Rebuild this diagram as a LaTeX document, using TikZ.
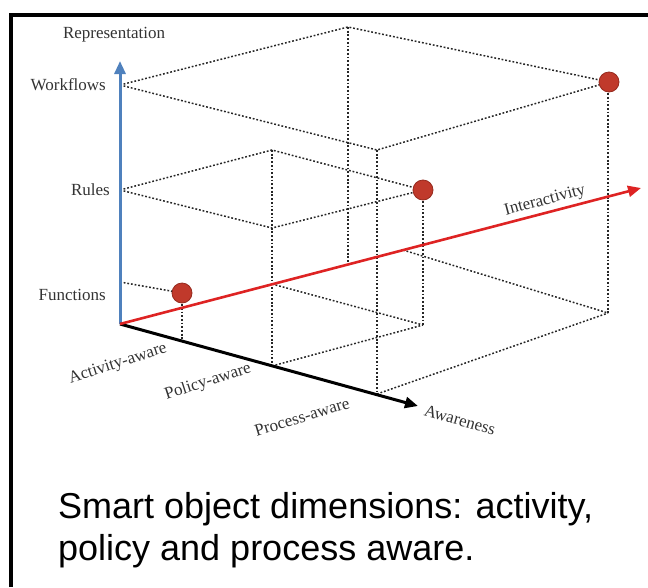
\documentclass[tikz,border=0pt]{standalone}
\usepackage{fontspec}
\setmainfont{Liberation Serif}
\newfontfamily\capfont{Liberation Sans}
\usetikzlibrary{arrows.meta}
\definecolor{axblue}{RGB}{79,129,189}
\definecolor{axred}{RGB}{222,35,35}
\definecolor{dotred}{RGB}{192,57,43}
\definecolor{dotedge}{RGB}{150,42,30}
\begin{document}
\begin{tikzpicture}[x=1pt,y=-1pt,
  grid/.style={draw=black!85,line width=1.5pt,dash pattern=on 1.8pt off 1.9pt},
  lbl/.style={font=\fontsize{17}{19}\selectfont,text=black!80,inner sep=0pt},
  caption/.style={font=\capfont\fontsize{36}{42}\selectfont,inner sep=0pt,anchor=base west},
  bigdot/.style={circle,fill=dotred,draw=dotedge,line width=0.8pt,minimum size=20pt,inner sep=0pt},
  axis/.style={line width=3pt,-{Triangle[length=13pt,width=11pt]}}]
\useasboundingbox (0,0) rectangle (648,587);
% frame
\draw[line width=3.5pt] (11,587) -- (11,15) -- (648,15);
% coordinates
\coordinate (O) at (120,324);
\coordinate (Vtip) at (120,61);
\coordinate (Atip) at (418,406);
\coordinate (Itip) at (641,188);
\coordinate (W) at (120,85);
\coordinate (R) at (120,190);
\coordinate (F) at (120,282);
\coordinate (c1) at (182,293);
\coordinate (c2) at (423,190);
\coordinate (c3) at (609,82);
\coordinate (A1) at (182,341);
\coordinate (T) at (348,27);
\coordinate (WA3) at (377,150);
\coordinate (RI2) at (272,150);
\coordinate (RA2) at (272,228);
\coordinate (I2) at (272,284);
\coordinate (A2) at (272,366);
\coordinate (A3) at (377,394);
\coordinate (I3) at (348,263);
\coordinate (A2I2) at (423,325);
\coordinate (A3I3) at (608,313);
\coordinate (B3) at (403,250);
\coordinate (c3b) at (608,82);
% dashed box edges
\draw[grid] (F) -- (c1);
\draw[grid] (c1) -- (A1);
\draw[grid] (W) -- (T) -- (c3);
\draw[grid] (W) -- (WA3) -- (c3);
\draw[grid] (T) -- (I3);
\draw[grid] (WA3) -- (A3);
\draw[grid] (c3b) -- (A3I3);
\draw[grid] (A3) -- (A3I3);
\draw[grid] (B3) -- (A3I3);
\draw[grid] (R) -- (RI2) -- (c2);
\draw[grid] (R) -- (RA2) -- (c2);
\draw[grid] (RI2) -- (A2);
\draw[grid] (c2) -- (A2I2);
\draw[grid] (I2) -- (A2I2);
\draw[grid] (A2) -- (A2I2);
% axes
\draw[axis,draw=axblue,fill=axblue] (O) -- (Vtip);
\draw[axis,draw=black,fill=black] (O) -- (Atip);
\draw[axis,line width=2.6pt,draw=axred,fill=axred] (O) -- (Itip);
% dots
\node[bigdot] (d1) at (c1) {};
\node[bigdot] (d2) at (c2) {};
\node[bigdot] (d3) at (c3) {};
% labels
\node[lbl] (lrep) at (114,35) {Representation};
\node[lbl,anchor=east] (lwf) at (106,85) {Workflows};
\node[lbl,anchor=east] (lru) at (110,190) {Rules};
\node[lbl,anchor=east] (lfu) at (106,295) {Functions};
\node[lbl,rotate=18] (lact) at (118,364) {Activity-aware};
\node[lbl,rotate=18] (lpol) at (208,382) {Policy-aware};
\node[lbl,rotate=17] (lpro) at (302,417) {Process-aware};
\node[lbl,rotate=-16] (lawa) at (460,420) {Awareness};
\node[lbl,rotate=15] (lint) at (545,201) {Interactivity};
% caption
\node[caption] (cap1) at (58,518) {Smart object dimensions: activity,};
\node[caption] (cap2) at (58,560) {policy and process aware.};
\end{tikzpicture}
\end{document}
